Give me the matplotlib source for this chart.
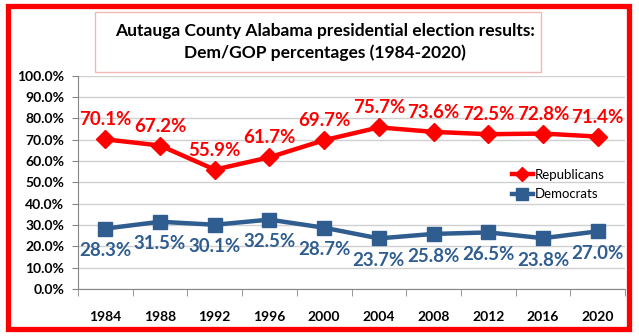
import matplotlib.pyplot as plt
from matplotlib.patches import Rectangle
from matplotlib.ticker import FixedLocator, FuncFormatter

# Chart data
years = ['1984', '1988', '1992', '1996', '2000', '2004', '2008', '2012', '2016', '2020']
rep_pct = [70.1, 67.2, 55.9, 61.7, 69.7, 75.7, 73.6, 72.5, 72.8, 71.4]
dem_pct = [28.3, 31.5, 30.1, 32.5, 28.7, 23.7, 25.8, 26.5, 23.8, 27.0]

W, H = 639, 336
red = '#FF0000'
blue = '#2F5D8F'
font = 'Lato'

fig = plt.figure(figsize=(W / 100, H / 100), dpi=100)
fig.patch.set_facecolor('white')

# plot area in pixels
left, right, top, bottom = 78, 625, 75.5, 289
ax = fig.add_axes([left / W, 1 - bottom / H, (right - left) / W, (bottom - top) / H])

x = list(range(len(years)))
ax.plot(x, rep_pct, color=red, lw=3.2, marker='D', ms=9, mec=red, mfc=red,
        label='Republicans', zorder=3)
ax.plot(x, dem_pct, color=blue, lw=3.2, marker='s', ms=10.5, mec=blue, mfc=blue,
        label='Democrats', zorder=3)

# data labels
for i, v in enumerate(rep_pct):
    ax.annotate('%.1f%%' % v, (i, v), xytext=(0, 14), textcoords='offset points',
                ha='center', va='center', color=red, fontsize=13.5,
                fontweight='bold', family=font)
for i, v in enumerate(dem_pct):
    ax.annotate('%.1f%%' % v, (i, v), xytext=(0, -16), textcoords='offset points',
                ha='center', va='center', color=blue, fontsize=13.5,
                fontweight='bold', family=font)

ax.set_xlim(-0.5, len(years) - 0.5)
ax.set_ylim(0, 100)
ax.set_xticks(x)
ax.set_xticklabels(years)
ax.xaxis.set_minor_locator(FixedLocator([i - 0.5 for i in range(len(years) + 1)]))
ax.tick_params(axis='x', which='major', length=0, pad=16, labelsize=10)
ax.tick_params(axis='x', which='minor', length=5, color='#868686', direction='out')
ax.set_yticks(range(0, 101, 10))
ax.yaxis.set_major_formatter(FuncFormatter(lambda v, p: '%.1f%%' % v))
ax.tick_params(axis='y', length=4, color='#868686', labelsize=10, pad=6)
for lab in ax.get_xticklabels() + ax.get_yticklabels():
    lab.set_fontweight('bold')
    lab.set_family(font)

ax.grid(axis='y', color='#D0D0D0', lw=1)
ax.set_axisbelow(True)
for s in ['top', 'right']:
    ax.spines[s].set_visible(False)
for s in ['left', 'bottom']:
    ax.spines[s].set_color('#868686')

leg = ax.legend(loc='upper left', bbox_to_anchor=(500 / W, 1 - 157 / H),
                bbox_transform=fig.transFigure, frameon=False,
                handlelength=1.6, handletextpad=0.15, labelspacing=0.55,
                markerscale=0.8, prop={'family': font, 'size': 9.5})

# title with a thin pink box
fig.patches.append(Rectangle((94.5 / W, 1 - 72 / H), (541 - 94.5) / W, 60 / H,
                             transform=fig.transFigure, fill=False,
                             edgecolor='#F2B8B8', lw=1))
fig.text(325 / W, 1 - 42 / H,
         'Autauga County Alabama presidential election results:\nDem/GOP percentages (1984-2020)',
         ha='center', va='center', fontsize=12.5, family=font, fontweight='bold',
         linespacing=1.45)

# thick red frame around everything
fig.patches.append(Rectangle((8 / W, 1 - 328.5 / H), (629 - 8) / W, (328.5 - 5.5) / H,
                             transform=fig.transFigure, fill=False,
                             edgecolor=red, lw=3.8, zorder=10))

fig.savefig('out.png', dpi=100)
